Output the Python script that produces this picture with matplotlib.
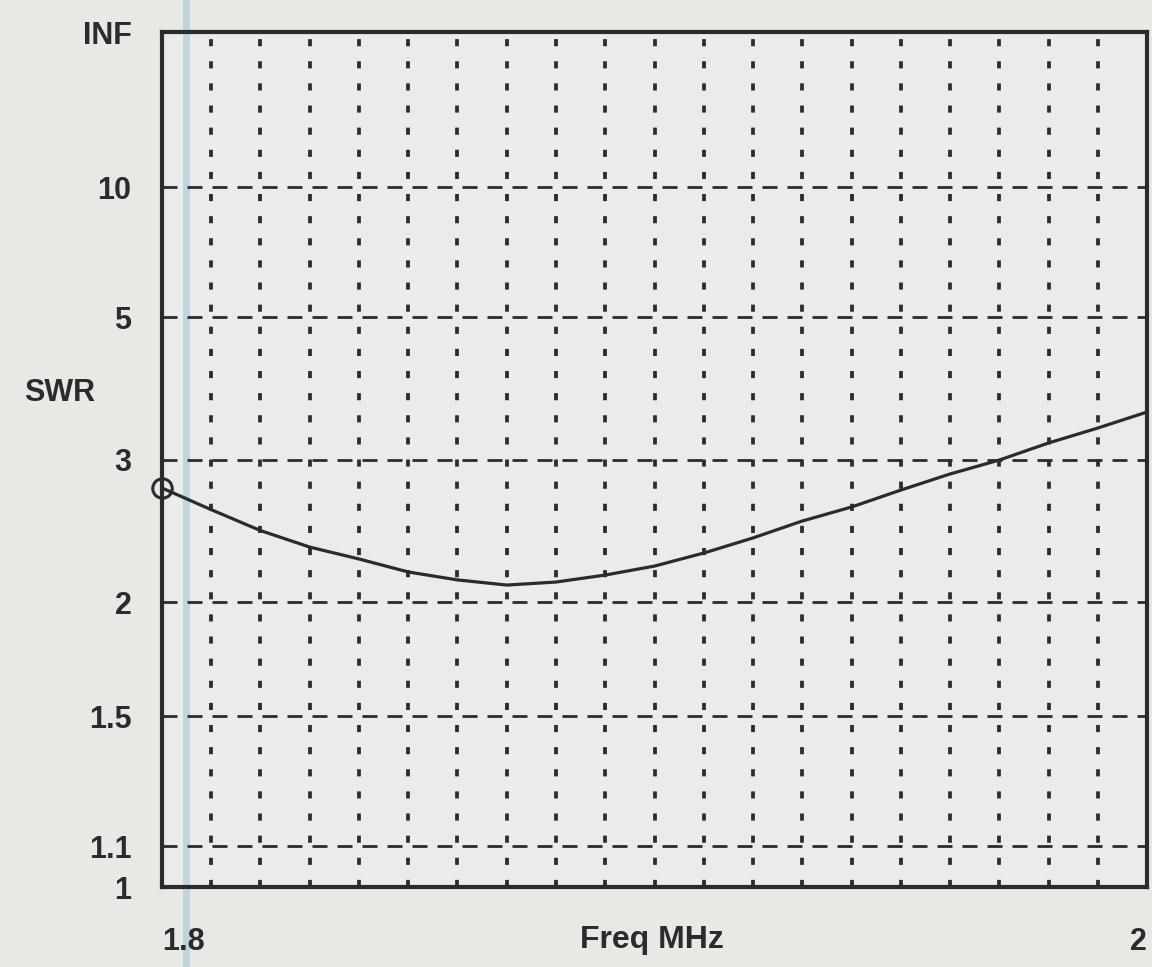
import numpy as np
import matplotlib.pyplot as plt
from matplotlib.ticker import MultipleLocator, FixedLocator
import matplotlib.transforms as mtransforms

freq = [1.80, 1.81, 1.82, 1.83, 1.84, 1.85, 1.86, 1.87, 1.88, 1.89, 1.90,
        1.91, 1.92, 1.93, 1.94, 1.95, 1.96, 1.97, 1.98, 1.99, 2.00]
swr = [2.75, 2.58, 2.43, 2.32, 2.245, 2.167, 2.121, 2.092, 2.109, 2.149,
       2.202, 2.282, 2.38, 2.497, 2.60, 2.733, 2.869, 2.995, 3.161, 3.318, 3.50]

swr_ticks = [1, 1.1, 1.5, 2, 3, 5, 10, 1e6]
swr_labels = ["1", "1.1", "1.5", "2", "3", "5", "10", "INF"]
grid_swr = [1.1, 1.5, 2, 3, 5, 10]
freq_ticks = [1.8, 2.0]
freq_labels = ["1.8", "2"]
cursor_freq = 1.8049

bg = "#e8e8e5"
ink = "#2b2b2b"
fs = 22


# SWR axis is linear in reflection coefficient
def to_rho(s):
    s = np.asarray(s, dtype=float)
    return (s - 1) / (s + 1)


def from_rho(r):
    r = np.clip(np.asarray(r, dtype=float), -0.999999, 0.999999)
    return (1 + r) / (1 - r)


plt.rcParams['font.family'] = ['Liberation Sans', 'DejaVu Sans']

fig = plt.figure(figsize=(11.52, 9.67), dpi=100, facecolor=bg)
ax = fig.add_axes([0.1406, 0.0827, 0.8551, 0.8842], facecolor="#ebebe9")

ax.set_yscale('function', functions=(to_rho, from_rho))
ax.set_ylim(1, 1e6)
ax.set_xlim(1.8, 2.0)

# grid
ax.xaxis.set_minor_locator(MultipleLocator(0.01))
ax.grid(which='minor', axis='x', color=ink, lw=2.7,
        linestyle=(0, (1.9, 4.0)))
for s in grid_swr:
    ax.axhline(s, color=ink, lw=2.0, linestyle=(0, (5.4, 3.6)), zorder=1)

ax.plot(freq, swr, color=ink, lw=2.3, zorder=3)
ax.plot(freq[0], swr[0], 'o', ms=14, mfc='none', mec=ink, mew=2.2,
        clip_on=False, zorder=4)

ax.set_yticks(swr_ticks)
ax.set_yticklabels(swr_labels)
ax.yaxis.set_minor_locator(FixedLocator([]))
ax.set_xticks(freq_ticks)
ax.set_xticklabels(freq_labels)
ax.tick_params(axis='both', which='both', length=0)
ax.tick_params(axis='y', pad=22, labelsize=fs, labelcolor=ink)
ax.tick_params(axis='x', pad=29, labelsize=fs, labelcolor=ink)
for t in ax.get_yticklabels() + ax.get_xticklabels():
    t.set_fontweight('bold')
xl = ax.get_xticklabels()
xl[0].set_ha('left')
xl[-1].set_ha('right')

ax.text(0.497, -0.062, "Freq MHz", transform=ax.transAxes, ha='center',
        va='center', fontsize=fs + 1, fontweight='bold', color=ink)
ax.text(-0.14, 0.578, "SWR", transform=ax.transAxes, ha='left',
        va='center', fontsize=fs, fontweight='bold', color=ink)

for sp in ax.spines.values():
    sp.set_color(ink)
    sp.set_linewidth(3)

# light blue cursor line across the whole picture
trans = mtransforms.blended_transform_factory(ax.transData, fig.transFigure)
ax.plot([cursor_freq, cursor_freq], [0, 1], transform=trans, color="#a9cfe0",
        lw=5, alpha=0.7, clip_on=False, zorder=0.5)

fig.savefig("out.png", dpi=100, facecolor=bg)
